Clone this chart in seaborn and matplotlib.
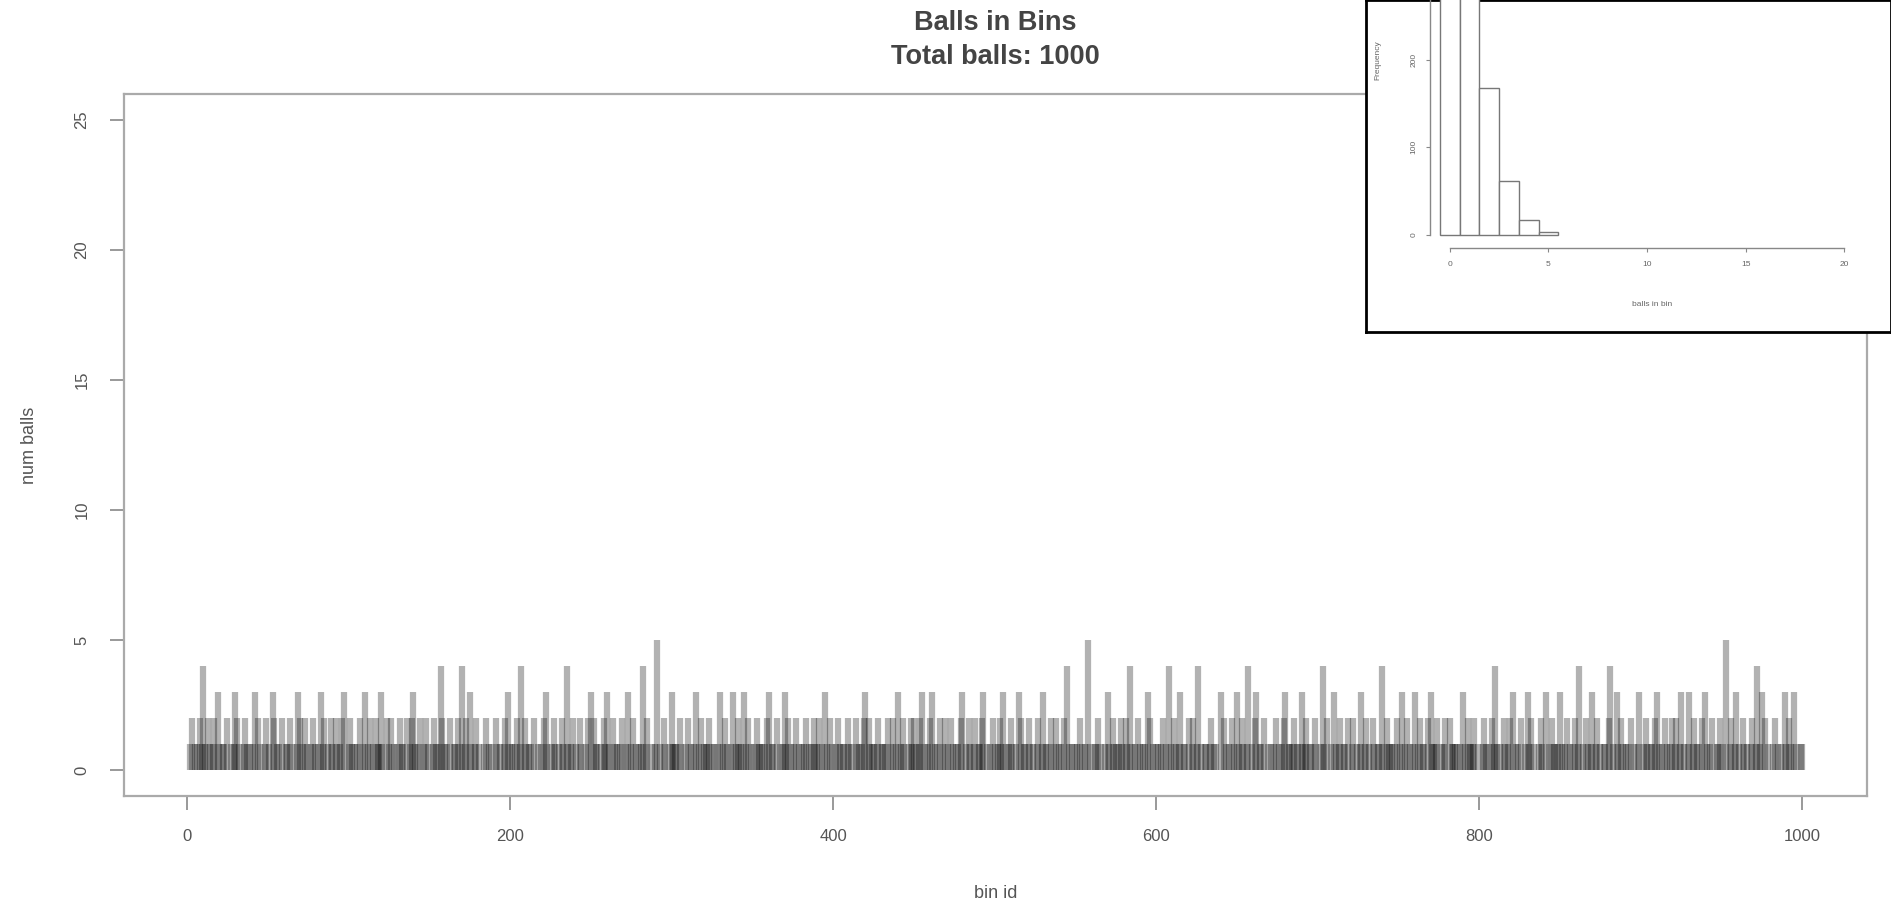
import numpy as np
import pandas as pd
import seaborn as sns
import matplotlib
matplotlib.use("Agg")
import matplotlib.pyplot as plt

# Balls per bin: one string per 50 bins (bin ids 1..1000)
bin_rows = [
    "0120110214" "1021012031" "0110201013" "2100121010" "1302100120",
    "1032011020" "1102100132" "0121001210" "1031201021" "0210123001",
    "2101102013" "0120102113" "1002120101" "0211020123" "1012001210",
    "0121014201" "1020110214" "0120310120" "1001201100" "2101012031",
    "1012014021" "0110201010" "2310012101" "0210410120" "1021001203",
    "0211010213" "1002110120" "0130120101" "1401200101" "5010210013",
    "1110210012" "0101301201" "1120110013" "0121001301" "2110312010",
    "1021110123" "0110201013" "1201012010" "1120110211" "2010310210",
    "0121011021" "1002110123" "0211101201" "1102012013" "0121001212",
    "1012301012" "3011020120" "1021011023" "0102101201" "1230101021",
    "0121301012" "1010320110" "2101012013" "0110201201" "1020410101",
    "1021010510" "0112010103" "1021101210" "2104101021" "0110320101",
    "1012010410" "2101301102" "0120140101" "1012011003" "0210102103",
    "1021014010" "2301102010" "1012010123" "0111201103" "1120110210",
    "0141020103" "1012011020" "1201013012" "0102101104" "1021110120",
    "1301201013" "0120110203" "1112001120" "0211110103" "1021112010",
    "0121010214" "1010210120" "3011020103" "1201001210" "3010211013",
    "1012010120" "1401021013" "0120101102" "4010310210" "1102010130",
    "0121011023" "1010210120" "1201301013" "0120110203" "1012001120",
    "1050120130" "1021010120" "1401302010" "0120101031" "0210310011",
]
counts = [int(c) for c in "".join(bin_rows)]
bin_ids = list(range(1, len(counts) + 1))

x_ticks = [0, 200, 400, 600, 800, 1000]
y_ticks = [0, 5, 10, 15, 20, 25]
inset_x_ticks = [0, 5, 10, 15, 20]
inset_y_ticks = [0, 100, 200]

data = pd.DataFrame({"bin_id": bin_ids, "num_balls": counts})

sns.set_style("ticks")
plt.rcParams["font.family"] = ["Liberation Sans", "DejaVu Sans"]

W, H = 1891, 907
fig = plt.figure(figsize=(W / 100, H / 100), dpi=100)

# main plot: one translucent bar per bin
ax = fig.add_axes([124 / W, 1 - 796 / H, 1743 / W, 702 / H], zorder=1)
ax.vlines(data["bin_id"], 0, data["num_balls"], color="black", alpha=0.3, linewidth=4.5)
ax.set_xlim(-39, 1040)
ax.set_ylim(-1, 26)
ax.set_xticks(x_ticks)
ax.set_yticks(y_ticks)
for s in ax.spines.values():
    s.set_visible(True)
    s.set_color("#aaaaaa")
    s.set_linewidth(1.6)
ax.tick_params(direction="out", length=10, width=1.4, color="#999999",
               labelcolor="#555555", labelsize=12)
ax.tick_params(axis="x", pad=14)
ax.tick_params(axis="y", pad=15)
for lab in ax.get_yticklabels():
    lab.set_rotation(90)
    lab.set_va("center")
ax.set_xlabel("bin id", fontsize=13, color="#555555")
ax.set_ylabel("num balls", fontsize=13, color="#555555")
ax.xaxis.set_label_coords(0.5, -(885 - 796) / 702)
ax.yaxis.set_label_coords((38 - 124) / 1743, 0.5)

fig.text(995 / W, 1 - 23 / H, "Balls in Bins", ha="center", va="center",
         fontsize=19.5, fontweight="bold", color="#444444")
fig.text(995 / W, 1 - 57 / H, f"Total balls: {sum(counts)}", ha="center", va="center",
         fontsize=19.5, fontweight="bold", color="#444444")

# inset frame
box = fig.add_axes([1366 / W, 1 - 332 / H, 525 / W, 332 / H], zorder=2)
box.set_facecolor("white")
box.set_xticks([])
box.set_yticks([])
for s in box.spines.values():
    s.set_visible(True)
    s.set_color("black")
    s.set_linewidth(2)

# inset histogram of balls per bin
ax_in = fig.add_axes([1430 / W, 1 - 248 / H, 444 / W, 351 / H], zorder=3)
ax_in.set_facecolor("none")
sns.histplot(data=data, x="num_balls", discrete=True, color="white",
             edgecolor="#777777", linewidth=1, alpha=1, ax=ax_in)
ax_in.set_xlim(-1, 21.5)
ax_in.set_ylim(-15, 386)
sns.despine(ax=ax_in)
ax_in.spines["left"].set_bounds(0, 300)
ax_in.spines["bottom"].set_bounds(0, 20)
for s in ["left", "bottom"]:
    ax_in.spines[s].set_color("#888888")
    ax_in.spines[s].set_linewidth(1)
ax_in.set_xticks(inset_x_ticks)
ax_in.set_yticks(inset_y_ticks)
ax_in.tick_params(direction="out", length=3, width=0.8, color="#888888",
                  labelcolor="#666666", labelsize=6, pad=6)
for lab in ax_in.get_yticklabels():
    lab.set_rotation(90)
    lab.set_va("center")
ax_in.set_xlabel("balls in bin", fontsize=6, color="#666666")
ax_in.set_ylabel("Frequency", fontsize=6, color="#666666")
ax_in.xaxis.set_label_coords(0.5, -0.15)
ax_in.yaxis.set_label_coords(-0.11, 0.535)

fig.savefig("out.png", dpi=100)
